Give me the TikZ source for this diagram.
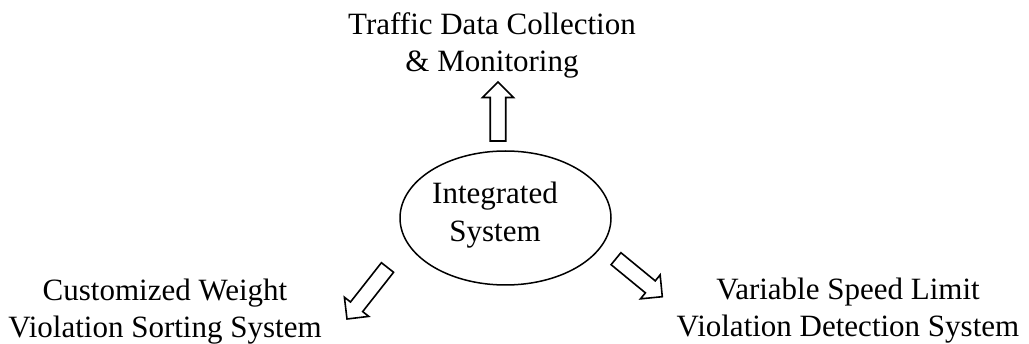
\documentclass[tikz,border=0pt]{standalone}
\usepackage{fontspec}
\setmainfont{Liberation Serif}
\usetikzlibrary{calc,shapes.geometric}

% block arrow geometry: shaft half width, head half width, head length
\newcommand\bkShaft{7.75pt}
\newcommand\bkHead{15.5pt}
\newcommand\bkLen{15.5pt}

\tikzset{
  caption/.style={font=\fontsize{31}{37.5}\selectfont, align=center, inner sep=0pt},
  hub/.style={draw, line width=1.5pt, ellipse, inner sep=0pt,
    minimum width=211pt, minimum height=134pt},
  blockarrow/.style={draw, line width=1.6pt, line join=miter,
    to path={
      ($(\tikztostart)!\bkShaft!90:(\tikztotarget)$)
      -- ($(\tikztotarget)!\bkLen!(\tikztostart)!\bkShaft!-90:(\tikztostart)$)
      -- ($(\tikztotarget)!\bkLen!(\tikztostart)!\bkHead!-90:(\tikztostart)$)
      -- (\tikztotarget)
      -- ($(\tikztotarget)!\bkLen!(\tikztostart)!\bkHead!90:(\tikztostart)$)
      -- ($(\tikztotarget)!\bkLen!(\tikztostart)!\bkShaft!90:(\tikztostart)$)
      -- ($(\tikztostart)!\bkShaft!-90:(\tikztotarget)$)
      -- cycle
    }}
}

\begin{document}
\begin{tikzpicture}[x=1pt, y=-1pt]
  \useasboundingbox (0,0) rectangle (1029,344);

  % central system (captions are placed by the baseline of their last line)
  \node[hub] (hub) at (505.5,218) {};
  \node[caption, anchor=base] (hubtext) at (495,241.5) {Integrated\\System};

  % surrounding subsystems
  \node[caption, anchor=base] (collect) at (492,71.8) {Traffic Data Collection\\\& Monitoring};
  \node[caption, anchor=base] (weight) at (165,338) {Customized Weight\\Violation Sorting System};
  \node[caption, anchor=base] (speed) at (848,337) {Variable Speed Limit\\Violation Detection System};

  % arrow end points
  \coordinate (upS) at (498,141);
  \coordinate (upT) at (498,82);
  \coordinate (dlS) at (387.5,267.5);
  \coordinate (dlT) at (347,319);
  \coordinate (drS) at (616,258.7);
  \coordinate (drT) at (662.3,296.7);

  \draw[blockarrow] (upS) to (upT);
  \draw[blockarrow] (dlS) to (dlT);
  \draw[blockarrow] (drS) to (drT);
\end{tikzpicture}
\end{document}
